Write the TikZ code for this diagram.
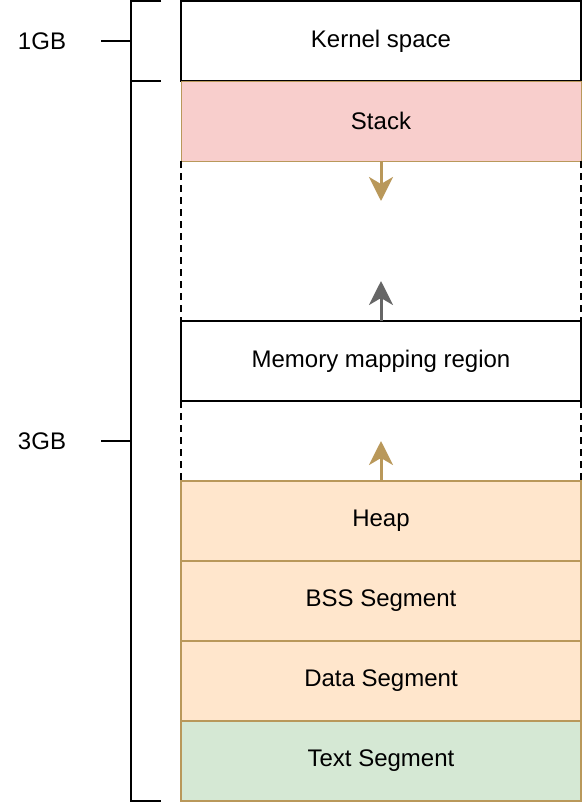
\documentclass[tikz,border=0pt]{standalone}
\usepackage{fontspec}
\setmainfont{Liberation Sans}
\usetikzlibrary{positioning,arrows.meta}
\definecolor{tanline}{RGB}{185,152,90}
\definecolor{stackfill}{HTML}{F8CECC}
\definecolor{heapfill}{HTML}{FFE6CC}
\definecolor{textfill}{HTML}{D5E8D4}
\definecolor{mapline}{HTML}{666666}
\tikzset{
  seg/.style={draw, line width=2pt, minimum width=400pt, minimum height=80pt,
    outer sep=0pt, inner sep=0pt, font=\fontsize{24}{28}\selectfont},
  tanseg/.style={seg, draw=tanline},
  growarrow/.style={line width=3pt, -{Stealth[length=24pt,width=24pt,inset=7pt]}},
  brace/.style={line width=2pt}
}
\begin{document}
\begin{tikzpicture}[x=1pt,y=-1pt]
        \useasboundingbox (0,0) rectangle (584,804);
        % Segmente
        \node[seg] (kernel) at (381,41) {Kernel space};
        \node[tanseg, fill=stackfill, line width=1pt, below=0pt of kernel] (stack) {Stack};
        \node[seg, below=160pt of stack] (mmap) {Memory mapping region};
        \node[tanseg, fill=heapfill, below=80pt of mmap] (heap) {Heap};
        \node[tanseg, fill=heapfill, below=0pt of heap] (bss) {BSS Segment};
        \node[tanseg, fill=heapfill, below=0pt of bss] (data) {Data Segment};
        \node[tanseg, fill=textfill, below=0pt of data] (text) {Text Segment};
        % Luecken
        \draw[dash pattern=on 7pt off 5pt, line width=2pt]
        (stack.south west) -- (mmap.north west)
        (stack.south east) -- (mmap.north east)
        (mmap.south west) -- (heap.north west)
        (mmap.south east) -- (heap.north east);
        % Wachstum
        \coordinate[below=40pt of stack.south] (stackend);
        \coordinate[above=40pt of mmap.north] (mmapend);
        \coordinate[above=40pt of heap.north] (heapend);
        \draw[growarrow, tanline] (stack.south) -- (stackend);
        \draw[growarrow, mapline] (mmap.north) -- (mmapend);
        \draw[growarrow, tanline] (heap.north) -- (heapend);
        % Klammern
        \draw[brace]
        (161,1) -- (131,1) -- (131,801) -- (161,801)
        (131,81) -- (161,81)
        (101,41) -- (131,41)
        (101,441) -- (131,441);
        \node[font=\fontsize{24}{28}\selectfont] (gb1) at (42,41) {1GB};
        \node[font=\fontsize{24}{28}\selectfont] (gb3) at (42,441) {3GB};
    \end{tikzpicture}
\end{document}
